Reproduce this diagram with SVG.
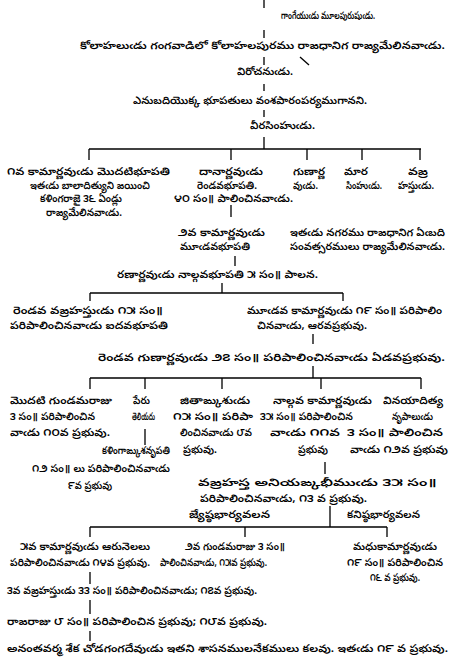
<svg xmlns="http://www.w3.org/2000/svg" width="452" height="663" viewBox="0 0 452 663">
<style>
.t{font-family:"Noto Sans Telugu","Lohit Telugu","Pothana2000","Noto Sans",sans-serif;font-size:10.5px;font-weight:600;fill:#000}
.c{stroke:#000;stroke-width:1.3;fill:none}
.h{stroke-width:1.6}
</style>
<rect width="452" height="663" fill="#fff"/>
<g id="connectors">
<path class="c" d="M264 0V8M264 30V38M264 57V65M264 84V91M264 110V117M264 137V149"/>
<path class="c" d="M300 57L309 65"/>
<path class="c h" d="M89 149H421"/>
<path class="c" d="M89 149V160M231 149V160M307 149V160M362 149V160M420 149V160"/>
<path class="c" d="M231 205V217M235 256V266M222 283V293"/>
<path class="c h" d="M90 293H343"/>
<path class="c" d="M90 293V301M343 293V301M313 334V344M313 366V378"/>
<path class="c h" d="M90 378H421"/>
<path class="c" d="M90 378V389M145 378V389M222 378V389M321 378V389M421 378V389"/>
<path class="c" d="M145 429V445M325 462V474M330 506V527"/>
<path class="c h" d="M90 527H387"/>
<path class="c" d="M90 527V537M245 527V537M387 527V537M90 572V584M90 600V614M90 631V641"/>
</g>
<g id="n1"><text class="t" x="281" y="19" textLength="94" lengthAdjust="spacingAndGlyphs">గాంగేయుఁడు మూలపురుషుఁడు.</text></g>
<g id="n2"><text class="t" x="80" y="49" textLength="365" lengthAdjust="spacingAndGlyphs">కోలాహలుఁడు గంగవాడిలో కోలాహలపురము రాజధానిగ రాజ్యమేలినవాఁడు.</text></g>
<g id="n3"><text class="t" x="237" y="75" textLength="56" lengthAdjust="spacingAndGlyphs">విరోచనుఁడు.</text></g>
<g id="n4"><text class="t" x="133" y="104" textLength="234" lengthAdjust="spacingAndGlyphs">ఎనుబదియొక్క భూపతులు వంశపారంపర్యముగానని.</text></g>
<g id="n5"><text class="t" x="250" y="129" textLength="65" lengthAdjust="spacingAndGlyphs">వీరసింహుఁడు.</text></g>
<g id="nA">
<text class="t" x="7" y="175" textLength="163" lengthAdjust="spacingAndGlyphs">౧వ కామార్ణవుఁడు మొదటిభూపతి</text>
<text class="t" x="30" y="189" textLength="120" lengthAdjust="spacingAndGlyphs">ఇతఁడు బాలాదిత్యుని జయించి</text>
<text class="t" x="40" y="202" textLength="82" lengthAdjust="spacingAndGlyphs">కళింగరాజై ౩౬ ఏండ్లు</text>
<text class="t" x="46" y="216" textLength="76" lengthAdjust="spacingAndGlyphs">రాజ్యమేలినవాఁడు.</text>
</g>
<g id="nB">
<text class="t" x="199" y="175" textLength="64" lengthAdjust="spacingAndGlyphs">దానార్ణవుఁడు</text>
<text class="t" x="197" y="189" textLength="60" lengthAdjust="spacingAndGlyphs">రెండవభూపతి.</text>
<text class="t" x="174" y="202" textLength="119" lengthAdjust="spacingAndGlyphs">౪౦ సం॥ పాలించినవాఁడు.</text>
</g>
<g id="nC">
<text class="t" x="293" y="175" textLength="32" lengthAdjust="spacingAndGlyphs">గుణార్ణ</text>
<text class="t" x="293" y="189" textLength="25" lengthAdjust="spacingAndGlyphs">వుఁడు.</text>
</g>
<g id="nD">
<text class="t" x="344" y="175" textLength="24" lengthAdjust="spacingAndGlyphs">మార</text>
<text class="t" x="346" y="189" textLength="36" lengthAdjust="spacingAndGlyphs">సింహుఁడు.</text>
</g>
<g id="nE">
<text class="t" x="408" y="175" textLength="20" lengthAdjust="spacingAndGlyphs">వజ్ర</text>
<text class="t" x="398" y="189" textLength="36" lengthAdjust="spacingAndGlyphs">హస్తుఁడు.</text>
</g>
<g id="nF">
<text class="t" x="178" y="236" textLength="87" lengthAdjust="spacingAndGlyphs">౨వ కామార్ణవుఁడు</text>
<text class="t" x="180" y="250" textLength="70" lengthAdjust="spacingAndGlyphs">మూఁడవభూపతి</text>
</g>
<g id="nG">
<text class="t" x="290" y="236" textLength="155" lengthAdjust="spacingAndGlyphs">ఇతఁడు నగరము రాజధానిగ ఏఁబది</text>
<text class="t" x="290" y="250" textLength="155" lengthAdjust="spacingAndGlyphs">సంవత్సరములు రాజ్యమేలినవాఁడు.</text>
</g>
<g id="nH"><text class="t" x="117" y="278" textLength="201" lengthAdjust="spacingAndGlyphs">రణార్ణవుఁడు నాల్గవభూపతి ౫ సం॥ పాలన.</text></g>
<g id="nI">
<text class="t" x="13" y="314" textLength="150" lengthAdjust="spacingAndGlyphs">రెండవ వజ్రహస్తుఁడు ౧౫ సం॥</text>
<text class="t" x="10" y="329" textLength="158" lengthAdjust="spacingAndGlyphs">పరిపాలించినవాఁడు ఐదవభూపతి</text>
</g>
<g id="nJ">
<text class="t" x="247" y="314" textLength="195" lengthAdjust="spacingAndGlyphs">మూఁడవ కామార్ణవుఁడు ౧౯ సం॥ పరిపాలిం</text>
<text class="t" x="257" y="329" textLength="110" lengthAdjust="spacingAndGlyphs">చినవాఁడు, ఆరవప్రభువు.</text>
</g>
<g id="nK"><text class="t" x="98" y="361" textLength="347" lengthAdjust="spacingAndGlyphs">రెండవ గుణార్ణవుఁడు ౨౭ సం॥ పరిపాలించినవాఁడు ఏడవప్రభువు.</text></g>
<g id="nL">
<text class="t" x="10" y="404" textLength="102" lengthAdjust="spacingAndGlyphs">మొదటి గుండమరాజు</text>
<text class="t" x="10" y="420" textLength="85" lengthAdjust="spacingAndGlyphs">౩ సం॥ పరిపాలించిన</text>
<text class="t" x="10" y="436" textLength="100" lengthAdjust="spacingAndGlyphs">వాఁడు ౧౦వ ప్రభువు.</text>
</g>
<g id="nM">
<text class="t" x="133" y="404" textLength="17" lengthAdjust="spacingAndGlyphs">పేరు</text>
<text class="t" x="132" y="420" textLength="23" lengthAdjust="spacingAndGlyphs">తెలియదు</text>
<text class="t" x="102" y="454" textLength="68" lengthAdjust="spacingAndGlyphs">కళింగాఙ్కుశనృపతి</text>
<text class="t" x="32" y="472" textLength="138" lengthAdjust="spacingAndGlyphs">౧౨ సం॥ లు పరిపాలించినవాఁడు</text>
<text class="t" x="68" y="489" textLength="44" lengthAdjust="spacingAndGlyphs">౯వ ప్రభువు</text>
</g>
<g id="nN">
<text class="t" x="180" y="404" textLength="70" lengthAdjust="spacingAndGlyphs">జితాఙ్కుశుఁడు</text>
<text class="t" x="173" y="420" textLength="80" lengthAdjust="spacingAndGlyphs">౧౫ సం॥ పరిపా</text>
<text class="t" x="180" y="436" textLength="72" lengthAdjust="spacingAndGlyphs">లించినవాఁడు ౮వ</text>
<text class="t" x="183" y="453" textLength="34" lengthAdjust="spacingAndGlyphs">ప్రభువు.</text>
</g>
<g id="nO">
<text class="t" x="273" y="404" textLength="99" lengthAdjust="spacingAndGlyphs">నాల్గవ కామార్ణవుఁడు</text>
<text class="t" x="260" y="420" textLength="93" lengthAdjust="spacingAndGlyphs">౩౫ సం॥ పరిపాలించిన</text>
<text class="t" x="270" y="436" textLength="70" lengthAdjust="spacingAndGlyphs">వాఁడు ౧౧వ</text>
<text class="t" x="298" y="453" textLength="30" lengthAdjust="spacingAndGlyphs">ప్రభువు</text>
</g>
<g id="nP">
<text class="t" x="383" y="404" textLength="60" lengthAdjust="spacingAndGlyphs">వినయాదిత్య</text>
<text class="t" x="392" y="420" textLength="41" lengthAdjust="spacingAndGlyphs">నృపాలుఁడు</text>
<text class="t" x="347" y="436" textLength="96" lengthAdjust="spacingAndGlyphs">౩ సం॥ పాలించిన</text>
<text class="t" x="350" y="453" textLength="98" lengthAdjust="spacingAndGlyphs">వాఁడు ౧౨వ ప్రభువు</text>
</g>
<g id="nQ">
<text class="t" x="198" y="486" textLength="239" lengthAdjust="spacingAndGlyphs">వజ్రహస్త అనియఙ్కభీముఁడు ౩౫ సం॥</text>
<text class="t" x="200" y="502" textLength="167" lengthAdjust="spacingAndGlyphs">పరిపాలించినవాఁడు, ౧౩ వ ప్రభువు.</text>
</g>
<g id="lbl1"><text class="t" x="189" y="518" textLength="81" lengthAdjust="spacingAndGlyphs">జ్యేష్ఠభార్యవలన</text></g>
<g id="lbl2"><text class="t" x="347" y="518" textLength="73" lengthAdjust="spacingAndGlyphs">కనిష్ఠభార్యవలన</text></g>
<g id="nR">
<text class="t" x="20" y="550" textLength="130" lengthAdjust="spacingAndGlyphs">౫వ కామార్ణవుఁడు ఆరునెలలు</text>
<text class="t" x="10" y="566" textLength="140" lengthAdjust="spacingAndGlyphs">పరిపాలించినవాఁడు ౧౪వ ప్రభువు.</text>
</g>
<g id="nS">
<text class="t" x="185" y="550" textLength="100" lengthAdjust="spacingAndGlyphs">౨వ గుండమరాజు ౩ సం॥</text>
<text class="t" x="160" y="566" textLength="107" lengthAdjust="spacingAndGlyphs">పాలించినవాఁడు, ౧౫వ ప్రభువు.</text>
</g>
<g id="nT">
<text class="t" x="353" y="550" textLength="84" lengthAdjust="spacingAndGlyphs">మధుకామార్ణవుఁడు</text>
<text class="t" x="347" y="566" textLength="96" lengthAdjust="spacingAndGlyphs">౧౯ సం॥ పరిపాలించిన</text>
<text class="t" x="370" y="581" textLength="50" lengthAdjust="spacingAndGlyphs">౧౬ వ ప్రభువు.</text>
</g>
<g id="nU"><text class="t" x="7" y="594" textLength="250" lengthAdjust="spacingAndGlyphs">౩వ వజ్రహస్తుఁడు ౩౩ సం॥ పరిపాలించినవాఁడు; ౧౭వ ప్రభువు.</text></g>
<g id="nV"><text class="t" x="7" y="625" textLength="260" lengthAdjust="spacingAndGlyphs">రాజరాజు ౮ సం॥ పరిపాలించిన ప్రభువు; ౧౮వ ప్రభువు.</text></g>
<g id="nW"><text class="t" x="7" y="652" textLength="441" lengthAdjust="spacingAndGlyphs">అనంతవర్మ శేక చోడగంగదేవుఁడు ఇతని శాసనములనేకములు కలవు. ఇతఁడు ౧౯ వ ప్రభువు.</text></g>
</svg>
